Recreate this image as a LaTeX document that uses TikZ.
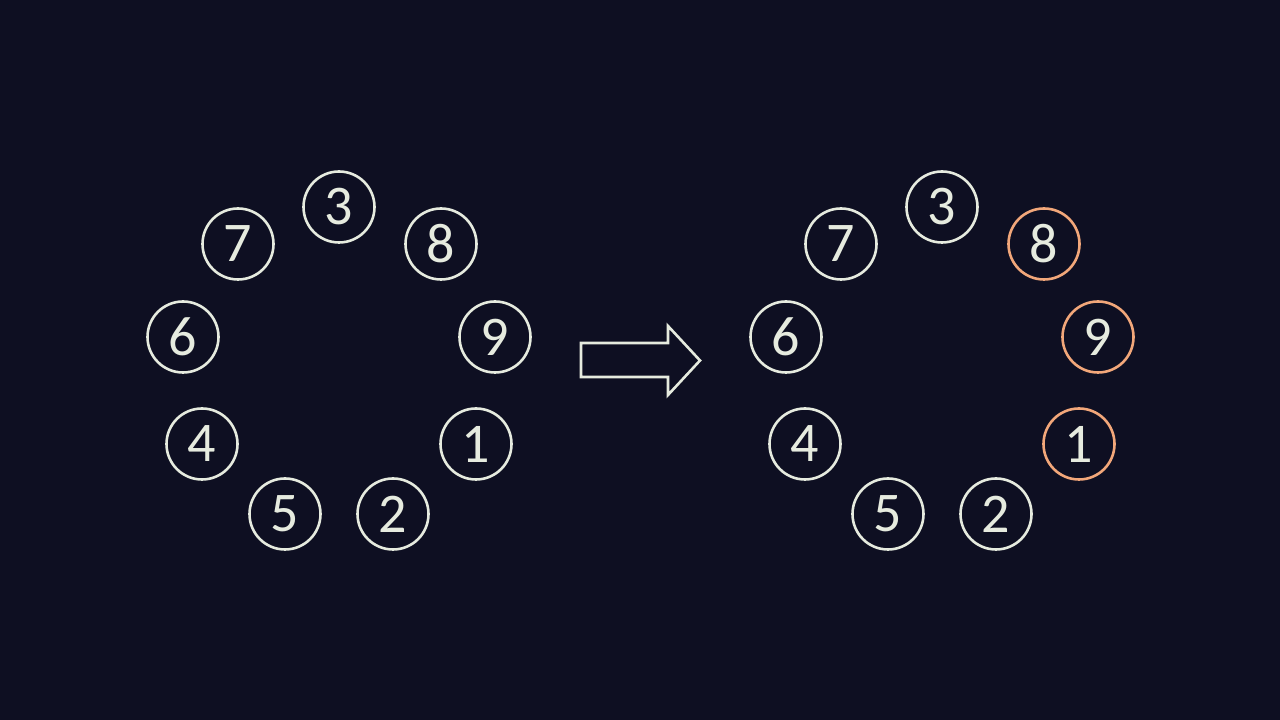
\documentclass[tikz,border=0pt]{standalone}
\usepackage{fontspec}
\setmainfont{Carlito}
\definecolor{bg}{HTML}{0E0F22}
\definecolor{fg}{HTML}{E6EBDF}
\definecolor{hl}{HTML}{F2A77A}
\begin{document}
\begin{tikzpicture}[x=1pt,y=1pt,
  num/.style={circle,draw=fg,line width=2.6pt,minimum size=71pt,inner sep=0pt,text=fg,font=\fontsize{56}{56}\selectfont},
  hot/.style={num,draw=hl}]
\fill[bg] (0,0) rectangle (1280,720);
\useasboundingbox (0,0) rectangle (1280,720);
% left ring
\node[num] (L3) at (339,513) {3};
\node[num] (L7) at (238,476) {7};
\node[num] (L8) at (441,476) {8};
\node[num] (L6) at (183,383) {6};
\node[num] (L9) at (495,383) {9};
\node[num] (L4) at (202,276) {4};
\node[num] (L1) at (476,276) {1};
\node[num] (L5) at (285,206) {5};
\node[num] (L2) at (393,206) {2};
% right ring
\node[num] (R3) at (942,513) {3};
\node[num] (R7) at (841,476) {7};
\node[hot] (R8) at (1044,476) {8};
\node[num] (R6) at (786,383) {6};
\node[hot] (R9) at (1098,383) {9};
\node[num] (R4) at (805,276) {4};
\node[hot] (R1) at (1079,276) {1};
\node[num] (R5) at (888,206) {5};
\node[num] (R2) at (996,206) {2};
% block arrow
\draw[fg,line width=2.6pt,line join=miter]
  (581,377) -- (668,377) -- (668,394) -- (700,359.5) -- (668,325) -- (668,343) -- (581,343) -- cycle;
\end{tikzpicture}
\end{document}
